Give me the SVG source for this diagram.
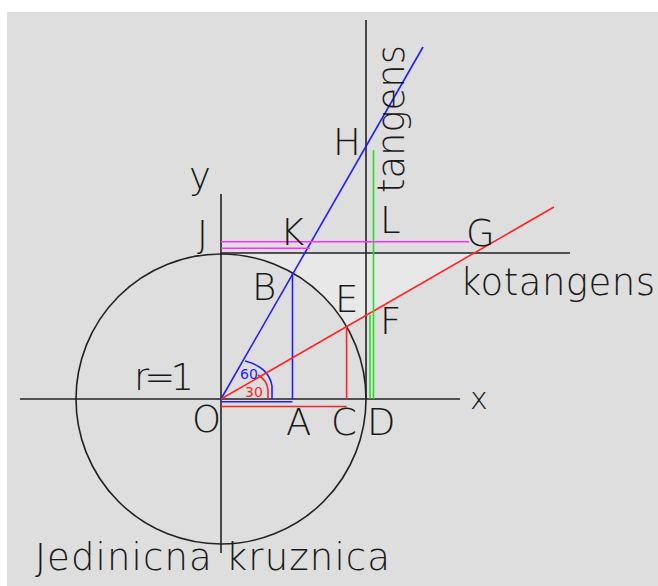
<svg xmlns="http://www.w3.org/2000/svg" width="658" height="586" viewBox="0 0 658 586">
<style>
.k{stroke:#222;stroke-width:1.6;fill:none}
.b{stroke:#1e1eff;stroke-width:1.6;fill:none}
.r{stroke:#ff2424;stroke-width:1.6;fill:none}
.g{stroke:#22e022;stroke-width:1.6;fill:none}
.m{stroke:#ff2cff;stroke-width:1.6;fill:none}
text{font-family:"DejaVu Sans","Liberation Sans",sans-serif;font-weight:200;font-size:37px;fill:#1a1a1a}
.s{font-size:14px;font-weight:normal}
</style>
<rect x="0" y="0" width="658" height="586" fill="#ffffff"/>
<rect x="7" y="12" width="651" height="574" fill="#dedede"/>
<path d="M221,253 L473,253 L346.6,326.5 A145,145 0 0 0 221,254 Z" fill="#e8e8e8"/>
<g id="circle"><circle cx="221" cy="399" r="145" class="k"/></g>
<g id="axes">
<line x1="20" y1="399" x2="460" y2="399" class="k"/>
<line x1="221" y1="194" x2="221" y2="553" class="k"/>
<line x1="366" y1="20" x2="366" y2="399" class="k"/>
<line x1="221" y1="253" x2="570" y2="253" class="k"/>
</g>
<g id="connectors">
<line x1="221" y1="399" x2="423" y2="47" class="b"/>
<line x1="292.5" y1="273" x2="292.5" y2="399" class="b"/>
<line x1="221" y1="401.7" x2="292.5" y2="401.7" class="b"/>
<path d="M245,361 Q269,367 272,386 L272,399" class="b"/>
<line x1="221" y1="399" x2="554" y2="207" class="r"/>
<line x1="346.6" y1="326.5" x2="346.6" y2="399" class="r"/>
<line x1="221" y1="406.5" x2="346.6" y2="406.5" class="r"/>
<path d="M258,375 Q267,380 268,390 L268,399" class="r"/>
<line x1="373.5" y1="150" x2="373.5" y2="399" class="g"/>
<line x1="370" y1="315" x2="370" y2="399" class="g"/>
<line x1="221" y1="241.7" x2="469" y2="241.7" class="m"/>
<line x1="221" y1="248.3" x2="310" y2="248.3" class="m"/>
</g>
<g id="labels">
<text x="189" y="189">y</text>
<text x="197" y="247">J</text>
<text x="280" y="245">K</text>
<text x="333" y="155">H</text>
<text x="380" y="233">L</text>
<text x="466" y="246">G</text>
<text x="252" y="300">B</text>
<text x="335" y="312">E</text>
<text x="380" y="334">F</text>
<text x="134" y="390" textLength="60" lengthAdjust="spacing">r=1</text>
<text x="192" y="432">O</text>
<text x="286" y="435">A</text>
<text x="331" y="435">C</text>
<text x="367" y="435">D</text>
<text x="470" y="409" style="font-size:30px">x</text>
<text x="460" y="295" textLength="195" lengthAdjust="spacing">kotangens</text>
<text x="35" y="570" textLength="355" lengthAdjust="spacing">Jedinicna kruznica</text>
<text transform="translate(404,193) rotate(-90)" x="0" y="0" textLength="148" lengthAdjust="spacing">tangens</text>
<text x="240" y="379" class="s" style="fill:#1e1eff">60</text>
<text x="245" y="397" class="s" style="fill:#ff2424">30</text>
</g>
</svg>
